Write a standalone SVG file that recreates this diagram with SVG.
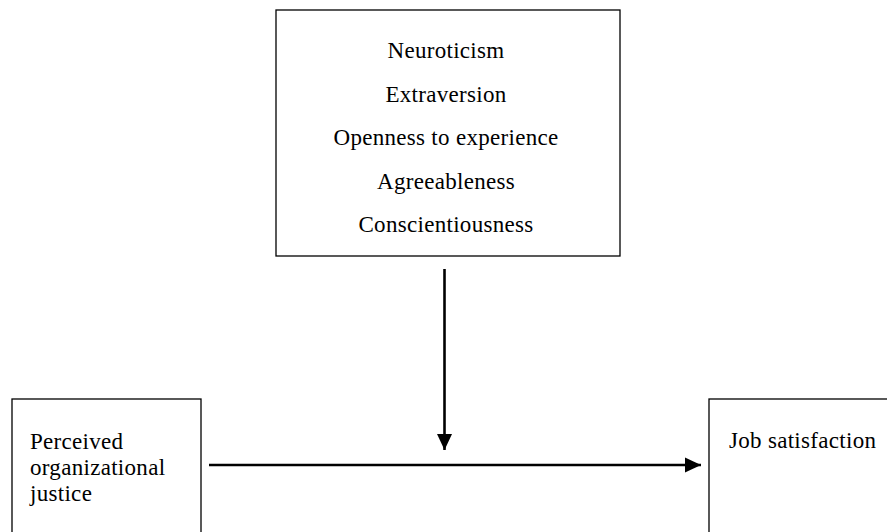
<svg xmlns="http://www.w3.org/2000/svg" width="887" height="532" viewBox="0 0 887 532">
<defs>
<style>
.box{fill:#fff;stroke:#000;stroke-width:1.3}
.t{font-family:"Liberation Serif","Times New Roman",serif;font-size:23px;letter-spacing:0.3px;fill:#000}
.c{text-anchor:middle}
.ln{stroke:#000;stroke-width:2.6;fill:none}
</style>
<marker id="ah" markerUnits="userSpaceOnUse" markerWidth="16" markerHeight="16" refX="16" refY="8" orient="auto" viewBox="0 0 16 16">
<path d="M0,0.5 L16,8 L0,15.5 Z" fill="#000"/>
</marker>
</defs>
<g id="traits">
<rect class="box" x="276" y="10" width="344" height="246"/>
<text class="t c" x="446" y="58">Neuroticism</text>
<text class="t c" x="446" y="101.5">Extraversion</text>
<text class="t c" x="446" y="145">Openness to experience</text>
<text class="t c" x="446" y="188.5">Agreeableness</text>
<text class="t c" x="446" y="232">Conscientiousness</text>
</g>
<g id="justice">
<rect class="box" x="12" y="399" width="189" height="150"/>
<text class="t" x="30" y="449">Perceived</text>
<text class="t" x="30" y="475">organizational</text>
<text class="t" x="30" y="501">justice</text>
</g>
<g id="satisfaction">
<rect class="box" x="709" y="399" width="200" height="150"/>
<text class="t" x="729" y="448">Job satisfaction</text>
</g>
<g id="connectors">
<line class="ln" x1="444.5" y1="269" x2="444.5" y2="450" marker-end="url(#ah)"/>
<line class="ln" x1="209" y1="465" x2="701" y2="465" marker-end="url(#ah)"/>
</g>
</svg>
